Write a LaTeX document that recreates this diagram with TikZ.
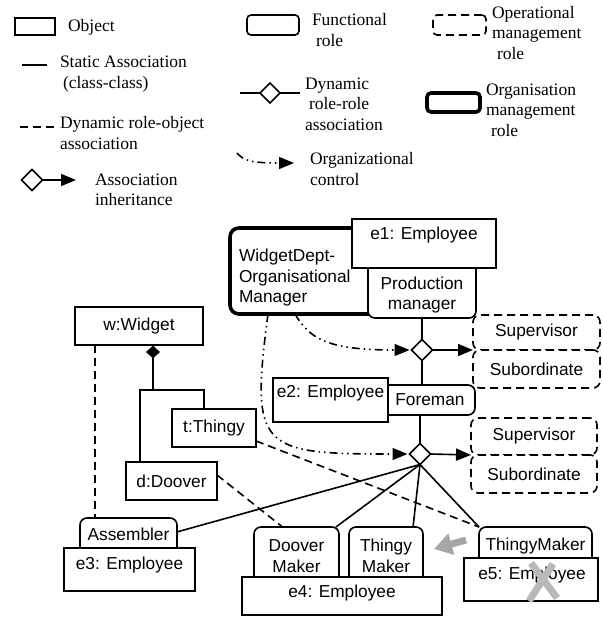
\documentclass[tikz,border=0pt]{standalone}
\usepackage{fontspec}
\setmainfont{Liberation Serif}
\newfontfamily\arialfont{Liberation Sans}
\usetikzlibrary{arrows.meta,shapes.geometric}

\begin{document}
\begin{tikzpicture}[x=1pt,y=-1pt,
  every node/.style={inner sep=0pt, outer sep=0pt},
  lw/.style={line width=1.6pt},
  lbl/.style={font=\arialfont\fontsize{17.3}{20.5}\selectfont, align=center},
  objbox/.style={draw, lw, fill=white, lbl},
  rolebox/.style={objbox, rounded corners=7pt},
  opbox/.style={rolebox, dash pattern=on 8pt off 5pt},
  orgbox/.style={draw, line width=3.6pt, rounded corners=9pt, fill=white},
  leg/.style={font=\fontsize{17.5}{20.5}\selectfont, align=left, anchor=west},
  tip/.style={-{Triangle[length=15pt,width=12pt]}},
  dyn/.style={lw, dash pattern=on 8pt off 5pt},
  ctrl/.style={lw, dash pattern=on 8pt off 4pt on 1.5pt off 4pt on 1.5pt off 4pt},
  assoc/.style={diamond, draw, lw, fill=white, minimum width=21pt, minimum height=21pt},
  grayarrow/.style={draw=gray!70, line width=7pt, -{Triangle[length=18pt,width=21pt]}},
  cross/.style={draw=gray!55, line width=7pt}
]
\useasboundingbox (0,0) rectangle (602,617);

% ---------------- legend ----------------
\node[objbox, minimum width=40, minimum height=17] (legobj) at (35,26.5) {};
\node[leg] (legobjt) at (68,27) {Object};

\coordinate (ls1) at (22,65);
\coordinate (ls2) at (47,65);
\draw[lw] (ls1) -- (ls2);
\node[leg] (legstat) at (60,74) {Static Association\\\hspace{3pt}(class-class)};

\coordinate (ld1) at (20,127);
\coordinate (ld2) at (54,127);
\draw[dyn] (ld1) -- (ld2);
\node[leg] (legdyn) at (60,133) {Dynamic role-object\\association};

\node[assoc] (legdia) at (32,180) {};
\coordinate (legtip) at (76,180);
\draw[lw, tip] (legdia.east) -- (legtip);
\node[leg] (leginh) at (95,190) {Association\\inheritance};

\node[rolebox, rounded corners=4pt, minimum width=52, minimum height=20] (legfun) at (273,25) {};
\node[leg] (legfunt) at (312,30) {Functional\\\hspace{4pt}role};

\coordinate (lr1) at (240,93);
\coordinate (lr2) at (300,93);
\node[assoc, minimum width=20, minimum height=20] (legrr) at (270,93) {};
\draw[lw] (lr1) -- (legrr.west);
\draw[lw] (legrr.east) -- (lr2);
\node[leg] (legrrt) at (305,104) {Dynamic\\\hspace{4pt}role-role\\association};

\coordinate (lc1) at (237,153);
\coordinate (lc2) at (294,163);
\draw[ctrl, tip] (lc1) .. controls (244,161) and (252,163) .. (lc2);
\node[leg] (legctrl) at (310,169) {Organizational\\control};

\node[opbox, rounded corners=4pt, minimum width=53, minimum height=20] (legop) at (459.5,25) {};
\node[leg] (legopt) at (492,33) {Operational\\management\\\hspace{5pt}role};

\node[orgbox, rounded corners=4pt, minimum width=53, minimum height=19] (legorg) at (453.5,102.5) {};
\node[leg] (legorgt) at (486,110) {Organisation\\management\\\hspace{5pt}role};

% ---------------- organisational manager and production manager ----------------
\node[orgbox, minimum width=170, minimum height=86] (wd) at (315,271) {};
\node[lbl, align=left, anchor=west] (wdt) at (239,278) {WidgetDept-\\Organisational\\Manager};
\node[rolebox, minimum width=108, minimum height=60] (pm) at (422,288) {};
\node[lbl] (pmt) at (422,295) {Production\\manager};
\node[objbox, minimum width=144, minimum height=49] (e1) at (424,243.5) {};
\node[lbl] (e1t) at (424,235) {e1: Employee};

\node[assoc] (d1) at (422,350) {};
\node[opbox, minimum width=127, minimum height=35] (sup1) at (536.5,332.5) {Supervisor};
\node[opbox, minimum width=127, minimum height=38] (sub1) at (536.5,369) {Subordinate};

% ---------------- foreman ----------------
\node[rolebox, minimum width=97, minimum height=30] (fm) at (426.5,400) {};
\node[lbl] (fmt) at (430,400) {Foreman};
\node[objbox, minimum width=115, minimum height=44] (e2) at (330.5,400) {};
\node[lbl] (e2t) at (330.5,393) {e2: Employee};

\node[assoc] (d2) at (420,454) {};
\node[opbox, minimum width=126, minimum height=37] (sup2) at (534,436.5) {Supervisor};
\node[opbox, minimum width=126, minimum height=38] (sub2) at (534,474) {Subordinate};

% ---------------- product objects ----------------
\node[objbox, minimum width=128, minimum height=38] (w) at (139,326) {w:Widget};
\node[diamond, draw, fill=black, line width=0.6pt, minimum width=13, minimum height=12] (comp) at (153,352) {};
\node[objbox, minimum width=84, minimum height=38] (t) at (214,428) {t:Thingy};
\node[objbox, minimum width=91, minimum height=38] (d) at (171.5,481) {d:Doover};
\coordinate (br) at (153,390);
\coordinate (brl) at (140,390);
\coordinate (brr) at (204,390);

% ---------------- workers ----------------
\node[rolebox, minimum width=97, minimum height=38] (asm) at (128.5,537) {};
\node[lbl] (asmt) at (128.5,534) {Assembler};
\node[objbox, minimum width=131, minimum height=43] (e3) at (129.5,569.5) {};
\node[lbl] (e3t) at (129.5,565) {e3: Employee};

\node[rolebox, minimum width=85, minimum height=58] (dm) at (296.5,556) {Doover\\Maker};
\node[rolebox, minimum width=74, minimum height=58] (tm) at (386,556) {Thingy\\Maker};
\node[objbox, minimum width=200, minimum height=38] (e4) at (342,596) {};
\node[lbl] (e4t) at (342,593) {e4: Employee};

\node[rolebox, minimum width=113, minimum height=39] (tm2) at (535.5,546.5) {ThingyMaker};
\node[objbox, minimum width=134, minimum height=43] (e5) at (531,579.5) {};
\node[lbl] (e5t) at (532,575) {e5: Employee};

% ---------------- connectors ----------------
\draw[lw] (pm.south -| d1) -- (d1.north);
\draw[lw, tip] (d1.east) -- (sup1.south west);
\draw[lw] (d1.south) -- (d1.south |- fm.north);
\draw[lw] (fm.south -| d2) -- (d2.north);
\draw[lw, tip] (d2.east) -- (sup2.south west);

\draw[ctrl, tip] ([xshift=-20pt]wd.south) .. controls (310,340) and (330,350) .. ([xshift=-2pt]d1.west);
\draw[ctrl, tip] ([xshift=-47pt]wd.south) .. controls (250,450) and (260,454) .. ([xshift=-2pt]d2.west);

\draw[lw] (comp.south) -- (br);
\draw[lw] (brl |- d.north) -- (brl) -- (brr) -- (brr |- t.north);

\draw[dyn] ([xshift=20pt]w.south west) -- ([xshift=15pt]asm.north west);
\draw[dyn] ([yshift=6pt]d.east) -- ([xshift=-14pt]dm.north);
\draw[dyn] ([yshift=-13pt]t.east) -- (tm2.north west);

\draw[lw] (d2.south) -- (asm.6);
\draw[lw] (d2.south) -- ([xshift=-3pt]dm.north east);
\draw[lw] (d2.south) -- (tm.47);
\draw[lw] (d2.south) -- (tm2.north west);

% ---------------- removal marks ----------------
\coordinate (ga1) at (466,540);
\coordinate (ga2) at (434,549);
\draw[grayarrow] (ga1) -- (ga2);
\coordinate (xa) at (531,563);
\coordinate (xb) at (557,598);
\coordinate (xc) at (553,564);
\coordinate (xd) at (529,601);
\draw[cross] (xa) -- (xb);
\draw[cross] (xc) -- (xd);
\end{tikzpicture}
\end{document}
